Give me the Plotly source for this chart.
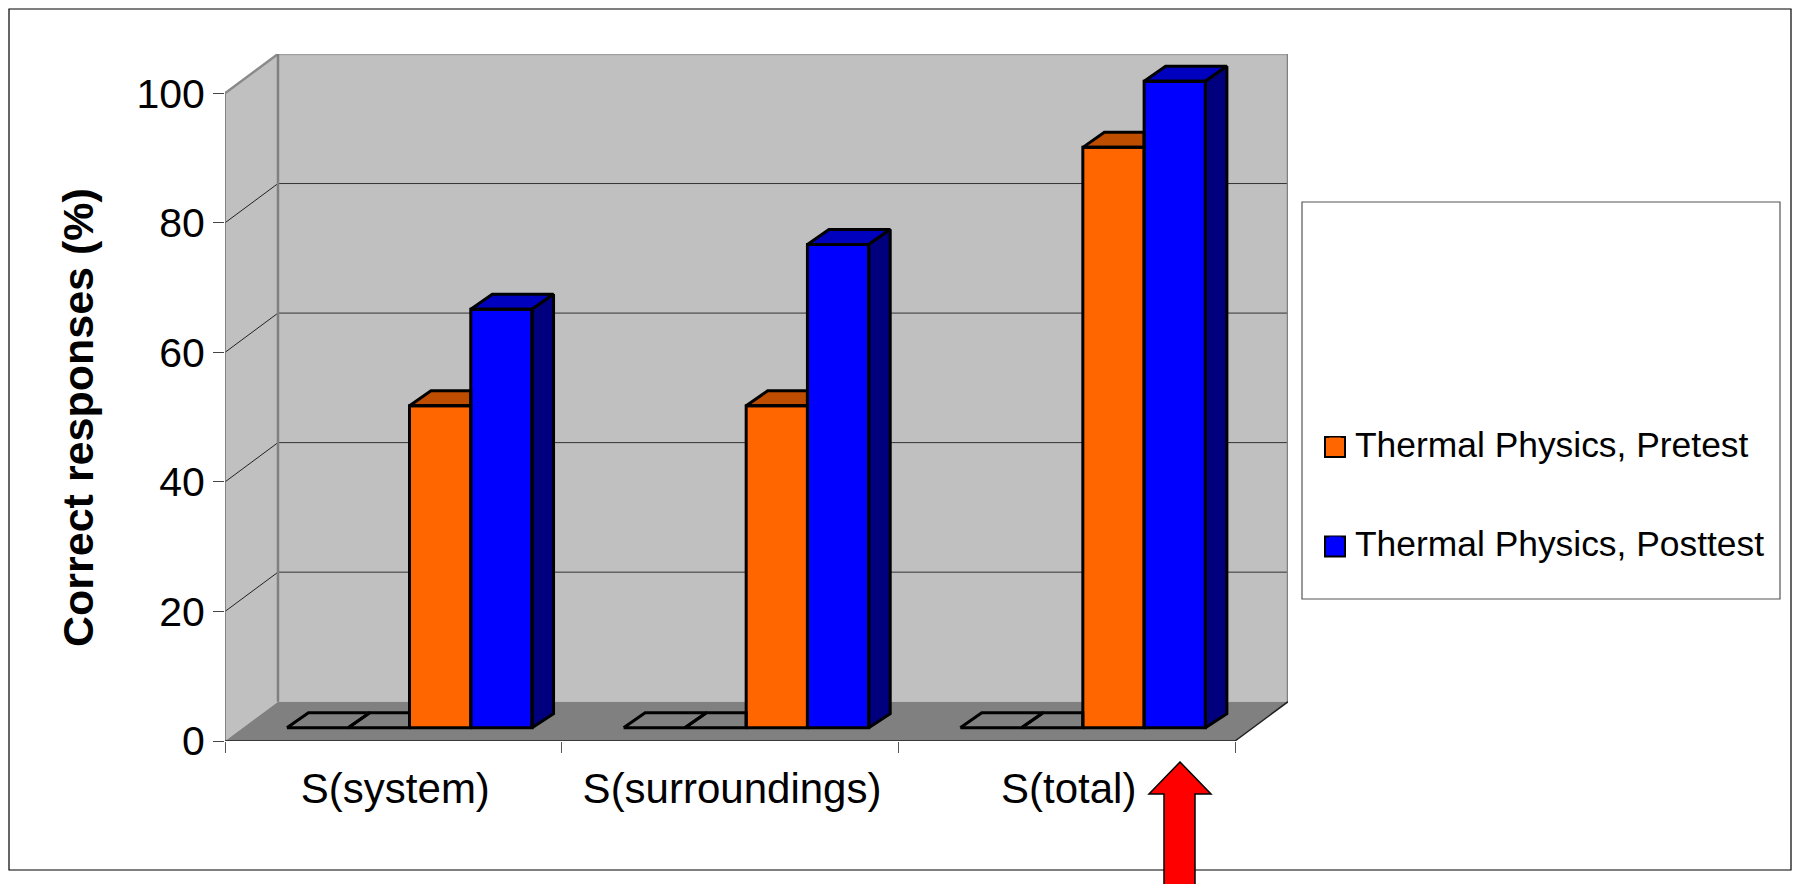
import plotly.graph_objects as go

# ---- data ----
categories = ["S(system)", "S(surroundings)", "S(total)"]
series_a = [0, 0, 0]
series_b = [0, 0, 0]
pretest = [49.7, 49.7, 89.6]
posttest = [64.6, 74.6, 99.8]
pretest_name = "Thermal Physics, Pretest"
posttest_name = "Thermal Physics, Posttest"
y_ticks = [0, 20, 40, 60, 80, 100]
y_title = "Correct responses (%)"

# ---- page geometry ----
W, H = 1798, 884
FONT = "Liberation Sans, Arial, sans-serif"
L, R, T, B = 225, 1288, 54, 741
UX = 336.67          # px per category
UY = 6.477           # px per 1 %
WALL_DX = (R - L - 3 * UX) / UX
WALL_DY = (B - T - 100 * UY) / UY
BAR_W = 0.182
BAR_START = 0.184
BAR_BASE = 13.3 / UY
D_X = 21.5 / UX
D_Y = 15 / UY
LINE = 3


def px(x):
    return (x - L) / (R - L)


def py(y):
    return (B - y) / (B - T)


XMAX, YMAX = 3 + WALL_DX, 100 + WALL_DY

shapes = []


def poly(points, fill, ref="data", line_color=None, line_width=0):
    d = "M" + " L".join(f"{a},{b}" for a, b in points) + " Z"
    s = dict(type="path", path=d, fillcolor=fill, layer="below",
             line=dict(color=line_color or fill, width=line_width))
    if ref == "data":
        s.update(xref="x", yref="y")
    else:
        s.update(xref="paper", yref="paper", layer="above")
    shapes.append(s)


def seg(x0, y0, x1, y1, color, width, layer="below"):
    shapes.append(dict(type="line", xref="x", yref="y", x0=x0, y0=y0, x1=x1, y1=y1,
                       layer=layer, line=dict(color=color, width=width)))


# walls and floor
poly([(WALL_DX, WALL_DY), (XMAX, WALL_DY), (XMAX, YMAX), (WALL_DX, YMAX)], "#C0C0C0")
poly([(0, 0), (WALL_DX, WALL_DY), (WALL_DX, YMAX), (0, 100)], "#C0C0C0")
poly([(0, 0), (3, 0), (XMAX, WALL_DY), (WALL_DX, WALL_DY)], "#808080")
for v in y_ticks[1:-1]:
    seg(0, v, WALL_DX, v + WALL_DY, "#222222", 1)
    seg(WALL_DX, v + WALL_DY, XMAX, v + WALL_DY, "#333333", 1)
seg(0, 100, WALL_DX, YMAX, "#8A8A8A", 2.5)
seg(WALL_DX, YMAX, XMAX, YMAX, "#A0A0A0", 2.5)
seg(WALL_DX, WALL_DY, WALL_DX, YMAX, "#808080", 2.5)
seg(XMAX, WALL_DY, XMAX, YMAX, "#808080", 2.5)
seg(0, 0, 0, 100, "#707070", 1.5)
seg(0, 0, 3, 0, "#222222", 1.5)
seg(3, 0, XMAX, WALL_DY, "#222222", 1.5)

all_series = [series_a, series_b, pretest, posttest]


def bar_x(cat, idx):
    return cat + BAR_START + idx * BAR_W


fig = go.Figure()

# front faces as real bars
for idx, vals, name, col in [(2, pretest, pretest_name, "#FF6600"),
                             (3, posttest, posttest_name, "#0000FF")]:
    fig.add_trace(go.Bar(
        x=[bar_x(c, idx) + BAR_W / 2 for c in range(3)], y=vals,
        base=[BAR_BASE] * 3, width=BAR_W, name=name, legendgroup=name,
        marker=dict(color=col, line=dict(width=0)), showlegend=True))


def polys_trace(polys, fill):
    xs, ys = [], []
    for p in polys:
        xs += [a for a, _ in p] + [p[0][0], None]
        ys += [b for _, b in p] + [p[0][1], None]
    fig.add_trace(go.Scatter(
        x=xs, y=ys, mode="lines", showlegend=False, hoverinfo="skip",
        line=dict(color="#000000", width=LINE, shape="linear"),
        fill="toself" if fill else "none", fillcolor=fill or "rgba(0,0,0,0)"))


styles = {0: (None, None), 1: (None, None), 2: ("#BF4D00", None), 3: ("#0000BF", "#00007F")}
for idx, vals in enumerate(all_series):
    tops, sides, fronts = [], [], []
    for c, v in enumerate(vals):
        x0 = bar_x(c, idx)
        x1 = x0 + BAR_W
        t = BAR_BASE + v
        nxt = all_series[idx + 1][c] if idx < 3 else None
        if nxt is not None and nxt > v:   # the next, taller bar hides the rest
            tops.append([(x0, t), (x0 + D_X, t + D_Y), (x1, t + D_Y), (x1, t)])
        else:
            tops.append([(x0, t), (x0 + D_X, t + D_Y), (x1 + D_X, t + D_Y), (x1, t)])
        if idx == 3:
            sides.append([(x1, BAR_BASE), (x1 + D_X, BAR_BASE + 14 / UY), (x1 + D_X, t + D_Y), (x1, t)])
        if v > 0:
            fronts.append([(x0, BAR_BASE), (x1, BAR_BASE), (x1, t), (x0, t)])
    polys_trace(tops, styles[idx][0])
    if sides:
        polys_trace(sides, styles[idx][1])
    if fronts:
        polys_trace(fronts, None)

# frame, legend box, legend keys, arrow (page furniture)
poly([(px(9), py(9)), (px(1791), py(9)), (px(1791), py(870)), (px(9), py(870))],
     "rgba(0,0,0,0)", ref="paper", line_color="#000000", line_width=1.2)
shapes[-1]["layer"] = "below"
poly([(px(1302), py(202)), (px(1780), py(202)), (px(1780), py(599)), (px(1302), py(599))],
     "#FFFFFF", ref="paper", line_color="#555555", line_width=1.2)
for cy, col in [(447, "#FF6600"), (546.5, "#0000FF")]:
    poly([(px(1325), py(cy - 10)), (px(1345), py(cy - 10)), (px(1345), py(cy + 10)), (px(1325), py(cy + 10))],
         col, ref="paper", line_color="#000000", line_width=2)
poly([(px(1180), py(762)), (px(1211), py(794)), (px(1195), py(794)), (px(1195), py(890)),
      (px(1164), py(890)), (px(1164), py(794)), (px(1149), py(794))],
     "#FF0000", ref="paper", line_color="#000000", line_width=1.5)

fig.update_layout(
    width=W, height=H, autosize=False,
    margin=dict(l=L, r=W - R, t=T, b=H - B, pad=0),
    paper_bgcolor="#FFFFFF", plot_bgcolor="rgba(0,0,0,0)",
    barmode="overlay", bargap=0,
    font=dict(family=FONT, color="#000000"),
    shapes=shapes,
    xaxis=dict(range=[0, XMAX], autorange=False, showgrid=False, zeroline=False, showline=False,
               tickmode="array", tickvals=[c + 0.506 for c in range(3)], ticktext=categories,
               ticks="outside", ticklen=11, tickcolor="rgba(0,0,0,0)",
               tickfont=dict(size=42, family=FONT),
               minor=dict(tickmode="array", tickvals=[0, 1, 2, 3], ticks="outside",
                          ticklen=11, tickcolor="#555555", tickwidth=1, showgrid=False)),
    yaxis=dict(range=[0, YMAX], autorange=False, showgrid=False, zeroline=False, showline=False,
               tickmode="array", tickvals=y_ticks, ticks="outside", ticklen=11,
               tickcolor="#444444", tickwidth=1, tickfont=dict(size=41, family=FONT)),
    legend=dict(x=px(1315), xanchor="left", y=py(414), yanchor="top",
                bgcolor="rgba(0,0,0,0)", borderwidth=0, traceorder="grouped",
                tracegroupgap=50, font=dict(size=35.4, family=FONT)),
    annotations=[dict(text=y_title, xref="paper", yref="paper", x=px(78), y=py(418),
                      textangle=-90, showarrow=False, xanchor="center", yanchor="middle",
                      font=dict(size=43, family=FONT, weight="bold"))],
)

fig.write_html("out.html", config=dict(displayModeBar=False),
               post_script="document.body.style.margin='0';document.documentElement.style.overflow='hidden';")
